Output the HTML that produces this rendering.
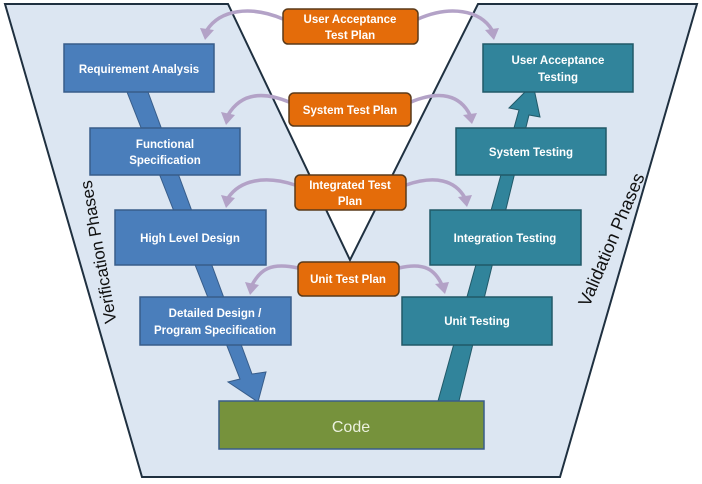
<!DOCTYPE html>
<html><head><style>
html,body{margin:0;padding:0;background:#fff;width:702px;height:484px;overflow:hidden}
svg text{font-family:"Liberation Sans",sans-serif}
.b{font-weight:bold;font-size:11.5px;fill:#fff;text-anchor:middle}
</style></head><body>
<svg width="702" height="484" viewBox="0 0 702 484">
<polygon points="5,4 228,4 350,260 478,4 697,4 560,477 142,477" fill="#dce6f2" stroke="#1f3040" stroke-width="2"/>
<text x="0" y="0" font-size="17" fill="#111" text-anchor="middle" transform="translate(104,251) rotate(-100)">Verification Phases</text>
<text x="0" y="0" font-size="18" fill="#111" text-anchor="middle" transform="translate(617,242) rotate(-67)">Validation Phases</text>
<polygon points="127,92 148,92 252,374 266,372 258,402 228,382 240,379" fill="#4a7ebb" stroke="#385d8a" stroke-width="1"/>
<polygon points="438,401 459,401 529,115 540,117 533,84 509,108 519,110" fill="#31849b" stroke="#215968" stroke-width="1"/>
<g fill="none" stroke="#b3a2c7" stroke-width="3.5">
<path d="M283,19 C250,5 220,10 207,30"/>
<path d="M418,19 C450,5 480,10 492,30"/>
<path d="M289,102 C260,90 240,95 228,115"/>
<path d="M411,102 C440,90 460,95 470,115"/>
<path d="M295,185 C265,175 240,180 228,198"/>
<path d="M406,185 C435,175 455,180 465,198"/>
<path d="M298,268 C270,262 260,270 252,285"/>
<path d="M399,268 C425,262 435,270 442,285"/>
</g>
<g fill="#b3a2c7">
<polygon points="200,28 214,30 205,40"/>
<polygon points="485,30 499,28 494,40"/>
<polygon points="221,112 235,115 226,125"/>
<polygon points="463,115 477,113 472,124"/>
<polygon points="221,195 235,198 226,208"/>
<polygon points="458,197 472,195 467,207"/>
<polygon points="245,282 259,285 250,295"/>
<polygon points="435,284 449,282 445,294"/>
</g>
<g fill="#4a7ebb" stroke="#385d8a" stroke-width="1.5">
<rect x="64" y="44" width="150" height="48"/>
<rect x="90" y="128" width="150" height="47"/>
<rect x="115" y="210" width="151" height="55"/>
<rect x="140" y="297" width="151" height="48"/>
</g>
<g fill="#31849b" stroke="#215968" stroke-width="1.5">
<rect x="483" y="44" width="150" height="48"/>
<rect x="456" y="128" width="150" height="47"/>
<rect x="430" y="210" width="151" height="55"/>
<rect x="402" y="297" width="150" height="48"/>
</g>
<rect x="219" y="401" width="265" height="48" fill="#76923c" stroke="#385d8a" stroke-width="1.5"/>
<g fill="#e46c0a" stroke="#5a3a1a" stroke-width="1.5">
<rect x="283" y="9" width="135" height="35" rx="5"/>
<rect x="289" y="93" width="122" height="33" rx="5"/>
<rect x="295" y="175" width="111" height="35" rx="5"/>
<rect x="298" y="262" width="101" height="34" rx="5"/>
</g>
<text class="b" x="139" y="73">Requirement Analysis</text>
<text class="b" x="165" y="148">Functional</text>
<text class="b" x="165" y="164">Specification</text>
<text class="b" x="190" y="242">High Level Design</text>
<text class="b" x="215" y="317">Detailed Design /</text>
<text class="b" x="215" y="334">Program Specification</text>
<text class="b" x="558" y="64">User Acceptance</text>
<text class="b" x="558" y="81">Testing</text>
<text class="b" x="531" y="156">System Testing</text>
<text class="b" x="505" y="242">Integration Testing</text>
<text class="b" x="477" y="325">Unit Testing</text>
<text class="b" x="350" y="23">User Acceptance</text>
<text class="b" x="350" y="39">Test Plan</text>
<text class="b" x="350" y="114">System Test Plan</text>
<text class="b" x="350" y="189">Integrated Test</text>
<text class="b" x="350" y="205">Plan</text>
<text class="b" x="348" y="283">Unit Test Plan</text>
<text x="351" y="432" font-size="16" fill="#ebf1de" text-anchor="middle">Code</text>
</svg>
</body></html>
